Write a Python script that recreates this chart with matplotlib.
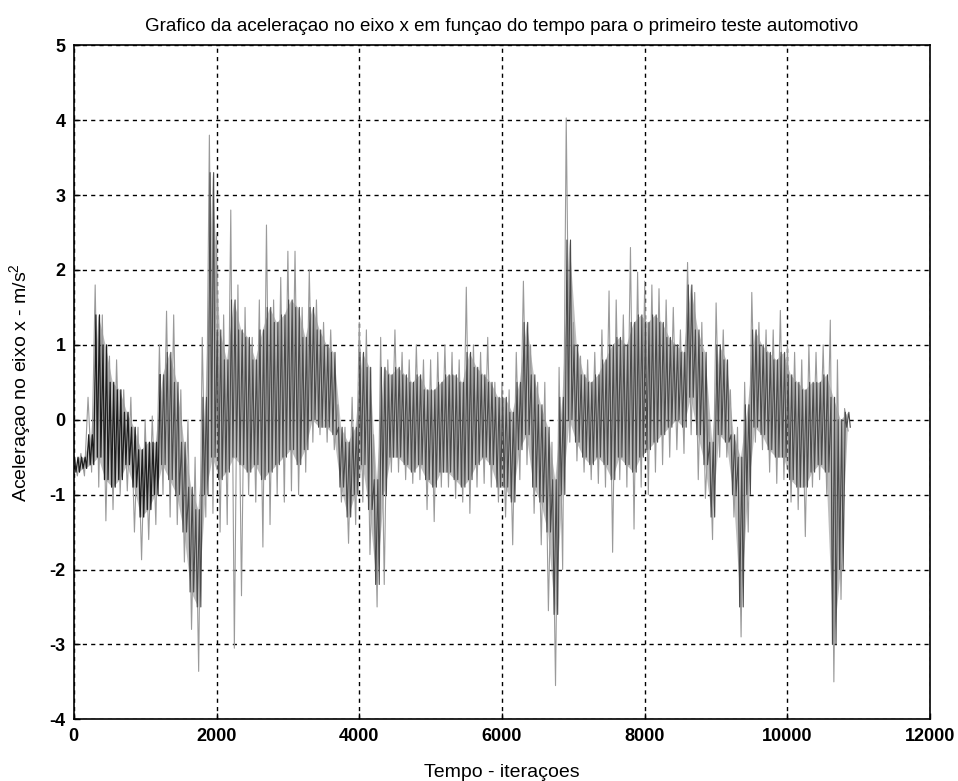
import matplotlib
matplotlib.use("Agg")
import matplotlib.pyplot as plt
import numpy as np

# Envelope readings every 100 iterations (0 .. 10800)
iteracoes = list(range(0, 10900, 100))
outer_hi = [-0.45, -0.45, 0.3, 1.8, 1.4, 0.85, 0.8, 0.4, 0.3, -0.1,
            0.0, 0.05, 1.0, 1.45, 1.4, 0.4, 0.0, -0.5, 1.1, 3.8,
            2.5, 1.4, 2.8, 1.8, 1.5, 1.1, 1.6, 2.6, 1.6, 1.9,
            2.25, 2.25, 1.5, 2.0, 1.6, 1.3, 1.2, 0.2, -0.1, 0.3,
            1.3, 1.2, -0.2, 1.1, 0.8, 1.2, 0.9, 0.8, 1.0, 0.8,
            0.8, 0.9, 1.0, 0.9, 0.8, 1.77, 1.0, 0.9, 1.1, 0.5,
            0.5, 0.4, 0.9, 1.85, 1.0, 0.5, 0.5, -0.3, 0.7, 4.03,
            1.3, 0.85, 0.8, 0.9, 1.2, 1.72, 1.6, 1.4, 2.3, 1.97,
            1.85, 1.8, 1.75, 1.6, 1.5, 1.2, 2.1, 1.7, 1.3, 0.0,
            1.56, 1.2, 0.4, -0.1, 0.5, 1.7, 1.3, 1.2, 1.2, 1.46,
            1.0, 0.9, 0.8, 1.0, 0.9, 1.0, 1.33, 0.8, 0.15]
core_hi = [-0.5, -0.5, -0.2, 1.4, 1.0, 0.5, 0.4, 0.1, -0.1, -0.4,
           -0.3, -0.3, 0.6, 0.9, 0.5, -0.3, -0.9, -1.2, 0.3, 3.3,
           1.2, 0.8, 1.6, 1.2, 1.1, 0.8, 1.2, 1.5, 1.3, 1.4,
           1.6, 1.5, 1.1, 1.5, 1.2, 1.0, 0.9, -0.1, -0.3, -0.1,
           0.9, 0.7, -0.8, 0.7, 0.6, 0.7, 0.6, 0.5, 0.6, 0.4,
           0.4, 0.5, 0.6, 0.6, 0.5, 0.9, 0.7, 0.6, 0.5, 0.3,
           0.3, 0.1, 0.5, 1.3, 0.6, 0.2, -0.1, -0.8, 0.3, 2.4,
           1.0, 0.6, 0.5, 0.6, 0.8, 1.0, 1.1, 1.0, 1.3, 1.4,
           1.3, 1.4, 1.3, 1.1, 1.0, 0.9, 1.8, 1.2, 0.9, -0.3,
           1.0, 0.8, -0.2, -0.5, 0.2, 1.2, 1.0, 0.9, 0.8, 0.9,
           0.6, 0.5, 0.4, 0.5, 0.5, 0.6, 0.3, 0.0, 0.1]
core_lo = [-0.7, -0.65, -0.6, -0.5, -0.8, -0.9, -0.8, -0.6, -0.9, -1.3,
           -1.2, -1.0, -0.6, -0.8, -1.0, -1.5, -2.3, -2.5, -1.0, -0.5,
           -0.8, -0.7, -0.5, -0.6, -0.7, -0.6, -0.8, -0.7, -0.6, -0.5,
           -0.4, -0.6, -0.4, 0.0, -0.1, -0.1, -0.2, -0.9, -1.3, -1.0,
           -0.6, -1.2, -2.2, -1.0, -0.5, -0.5, -0.6, -0.7, -0.6, -0.8,
           -0.9, -0.7, -0.7, -0.8, -0.9, -0.8, -0.6, -0.5, -0.6, -0.9,
           -0.9, -1.1, -0.4, -0.2, -0.9, -1.1, -1.5, -2.6, -1.0, 0.0,
           -0.3, -0.5, -0.6, -0.5, -0.6, -0.8, -0.5, -0.6, -0.7, -0.5,
           -0.4, -0.3, -0.2, -0.1, 0.0, -0.1, 0.3, -0.2, -0.6, -1.3,
           -0.2, -0.3, -1.0, -2.5, -1.0, -0.1, -0.2, -0.4, -0.5, -0.5,
           -0.8, -0.9, -0.9, -0.7, -0.6, -0.7, -3.0, -2.0, -0.1]
outer_lo = [-0.75, -0.75, -0.7, -0.9, -1.35, -1.2, -1.0, -0.95, -1.5, -1.87,
            -1.6, -1.4, -1.0, -1.3, -1.4, -1.9, -2.8, -3.36, -1.3, -1.25,
            -1.5, -1.4, -3.05, -2.35, -1.0, -1.1, -1.7, -1.4, -1.0, -1.1,
            -0.95, -1.0, -0.7, -0.3, -0.2, -0.3, -0.4, -1.1, -1.65, -1.4,
            -1.1, -1.8, -2.5, -2.2, -0.7, -0.7, -0.8, -0.85, -0.8, -1.2,
            -1.36, -0.9, -0.9, -1.05, -1.1, -1.25, -0.9, -0.85, -0.9, -1.1,
            -1.3, -1.67, -0.8, -0.6, -1.25, -1.67, -2.55, -3.55, -2.0, -0.3,
            -0.55, -0.7, -0.8, -0.85, -0.9, -1.77, -0.8, -0.9, -1.46, -0.9,
            -1.0, -0.7, -0.6, -0.5, -0.4, -0.45, -0.2, -0.8, -1.05, -1.6,
            -0.5, -0.5, -1.3, -2.9, -1.5, -0.3, -0.4, -0.7, -0.85, -0.8,
            -1.1, -1.2, -1.56, -0.9, -0.8, -1.0, -3.5, -2.4, -0.15]

x_ticks = [0, 2000, 4000, 6000, 8000, 10000, 12000]
y_ticks = [-4, -3, -2, -1, 0, 1, 2, 3, 4, 5]

titulo = "Grafico da aceleraçao no eixo x em funçao do tempo para o primeiro teste automotivo"
xlab = "Tempo - iteraçoes"
ylab = "Aceleraçao no eixo x - m/s$^2$"

plt.rcParams['font.family'] = ['Liberation Sans', 'DejaVu Sans']
plt.rcParams['mathtext.fontset'] = 'custom'
plt.rcParams['mathtext.rm'] = 'Liberation Sans'
plt.rcParams['mathtext.it'] = 'Liberation Sans'

fig = plt.figure(figsize=(9.58, 7.81), dpi=100)
ax = fig.add_axes([0.077, 0.079, 0.894, 0.863])

xs = np.array(iteracoes, dtype=float)
# dense core band
ax.fill_between(xs + 40, core_lo, core_hi, color='#8c8c8c', alpha=0.55, lw=0, zorder=2)
# outer spikes zigzag
xz = np.empty(2 * len(xs)); yz = np.empty(2 * len(xs))
xz[0::2] = xs; xz[1::2] = xs + 50
yz[0::2] = outer_hi; yz[1::2] = outer_lo
ax.plot(xz, yz, color='#9a9a9a', lw=0.8, zorder=2)
# core zigzag (first stretch of the record is printed darker in the original)
xc = np.empty(4 * len(xs)); yc = np.empty(4 * len(xs))
xc[0::4] = xs + 10; xc[1::4] = xs + 30; xc[2::4] = xs + 60; xc[3::4] = xs + 80
yc[0::4] = core_hi; yc[1::4] = core_lo; yc[2::4] = core_hi; yc[3::4] = core_lo
split = np.searchsorted(xc, 1200)
ax.plot(xc[:split + 1], yc[:split + 1], color='#1e1e1e', lw=0.9, zorder=3)
ax.plot(xc[split:], yc[split:], color='#4a4a4a', lw=0.8, zorder=3)

ax.set_xlim(0, 12000)
ax.set_ylim(-4, 5)
ax.set_xticks(x_ticks)
ax.set_yticks(y_ticks)
ax.set_xticklabels([str(t) for t in x_ticks], fontsize=13, fontweight='bold')
ax.set_yticklabels([str(t) for t in y_ticks], fontsize=13, fontweight='bold')
ax.tick_params(direction='in', length=4, width=1, colors='black', pad=6)
ax.grid(True, color='black', linestyle=(0, (3, 3)), linewidth=1.0, zorder=1)
for s in ax.spines.values():
    s.set_linewidth(1.2)
    s.set_zorder(5)

ax.set_title(titulo, fontsize=13.5, pad=10)
ax.set_xlabel(xlab, fontsize=14, labelpad=14)
ax.set_ylabel(ylab, fontsize=14, labelpad=12)

fig.savefig("out.png", dpi=100, facecolor='white')
